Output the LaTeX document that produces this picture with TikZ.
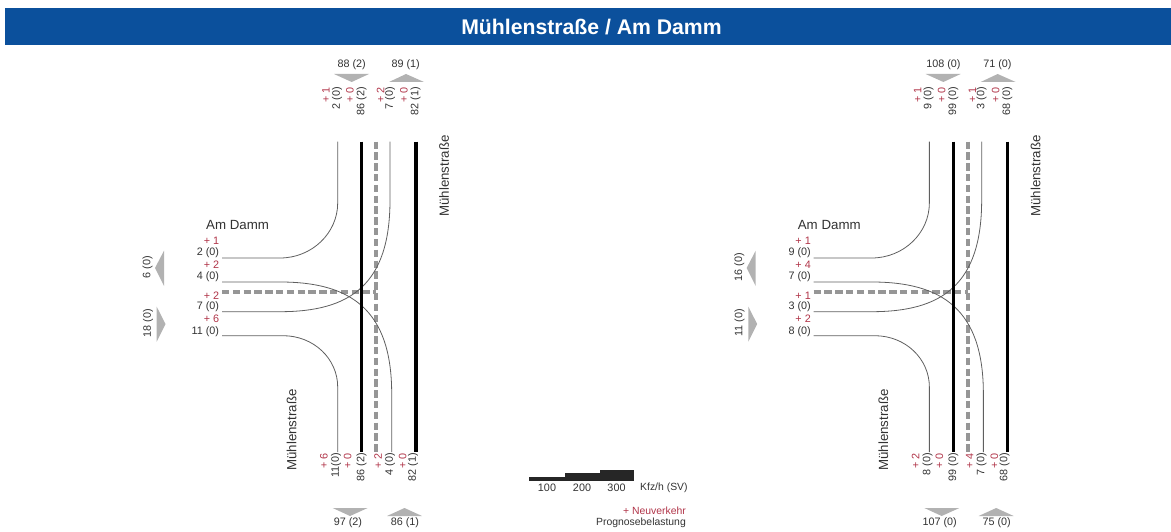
\documentclass[tikz,border=0pt]{standalone}
\usepackage{fontspec}
\setmainfont{Liberation Sans}
\usetikzlibrary{positioning}
\definecolor{bannerblue}{RGB}{11,80,156}
\definecolor{newred}{RGB}{176,52,72}
\definecolor{loadtext}{RGB}{50,50,50}
\definecolor{arrowgray}{RGB}{178,178,178}
\definecolor{dashgray}{RGB}{150,150,150}
\definecolor{turngray}{RGB}{95,95,95}
\tikzset{
  lbl/.style={inner sep=0pt,font=\fontsize{10.8}{12}\selectfont,text=loadtext},
  newlbl/.style={lbl,text=newred},
  legendlbl/.style={inner sep=0pt,font=\fontsize{10.4}{12}\selectfont,text=loadtext},
  streetlbl/.style={inner sep=0pt,font=\fontsize{13.3}{15}\selectfont,text=loadtext},
  upcount/.style={anchor=east,rotate=90},
  turn/.style={turngray,line width=0.8pt},
  thickflow/.style={black,line width=3.2pt},
  dashflow/.style={dashgray,line width=4.2pt,dash pattern=on 7.4pt off 3.4pt},
}
\newcommand{\junction}{
  \coordinate (nw) at (337.7,141.7);
  \coordinate (nwb) at (337.7,203);
  \coordinate (ne) at (390,141.7);
  \coordinate (neb) at (390,200);
  \coordinate (sw) at (337.7,452);
  \coordinate (swb) at (337.7,387);
  \coordinate (se) at (391.7,452);
  \coordinate (seb) at (391.7,393.7);
  \coordinate (wa) at (222,258);
  \coordinate (wab) at (280,258);
  \coordinate (wb) at (222,282);
  \coordinate (wbb) at (280,282);
  \coordinate (wc) at (222,292.3);
  \coordinate (wd) at (222,311.7);
  \coordinate (wdb) at (280,311.7);
  \coordinate (we) at (222,335.7);
  \coordinate (web) at (283,335.7);
  \coordinate (tl) at (361.7,141.7);
  \coordinate (bl) at (361.7,452);
  \coordinate (tm) at (376,141.7);
  \coordinate (bm) at (376,452);
  \coordinate (mm) at (376,292.3);
  \coordinate (tr) at (416,141.7);
  \coordinate (br) at (416,452);
  \draw[dashflow] (tm) -- (bm);
  \draw[dashflow] (wc) -- (mm);
  \draw[turn] (wa) -- (wab) .. controls (312,258) and (337.7,233) .. (nwb) -- (nw);
  \draw[turn] (wb) -- (wbb) .. controls (350,282) and (391.7,309) .. (seb) -- (se);
  \draw[turn] (wd) -- (wdb) .. controls (350,311.7) and (390,285) .. (neb) -- (ne);
  \draw[turn] (we) -- (web) .. controls (314,335.7) and (337.7,359) .. (swb) -- (sw);
  \draw[thickflow] (tl) -- (bl);
  \draw[thickflow] (tr) -- (br);
  % direction arrows
  \fill[arrowgray] (334,74) -- (369,74) -- (351.7,82) -- cycle;
  \fill[arrowgray] (389,82) -- (424,82) -- (406,74) -- cycle;
  \fill[arrowgray] (332.7,508) -- (367.7,508) -- (350,516) -- cycle;
  \fill[arrowgray] (387,516) -- (422,516) -- (404.5,508) -- cycle;
  \fill[arrowgray] (164,250.7) -- (164,286) -- (155,268) -- cycle;
  \fill[arrowgray] (156.7,306.7) -- (156.7,341.7) -- (165.5,324) -- cycle;
  \node[streetlbl,anchor=west] (damm) at (206,225) {Am Damm};
  \node[streetlbl,rotate=90] (northname) at (444,176) {Mühlenstraße};
  \node[streetlbl,rotate=90] (southname) at (291.7,430) {Mühlenstraße};
}
\begin{document}
\begin{tikzpicture}[x=1pt,y=-1pt]
  \useasboundingbox (0,0) rectangle (1171,532);
  \node[fill=bannerblue,minimum width=1166pt,minimum height=37.5pt,inner sep=0pt] (banner) at (588,26.3) {};
  \node[inner sep=0pt,text=white,font=\fontsize{21.2}{24}\selectfont\bfseries] (title) at (591.5,27) {Mühlenstraße / Am Damm};

  \begin{scope}[name prefix=a-]
    \junction
    \node[lbl] (ntot) at (351.7,65) {88 (2)};
    \node[lbl] (ntotb) at (405.7,65) {89 (1)};
    \node[lbl] (stot) at (348,523) {97 (2)};
    \node[lbl] (stotb) at (405,523) {86 (1)};
    \node[lbl,rotate=90] (wtot) at (147.7,267) {6 (0)};
    \node[lbl,rotate=90] (wtotb) at (148,323) {18 (0)};
    \foreach \x/\t [count=\i] in {337/2 (0),361.7/86 (2),390/7 (0),415.7/82 (1)}
      \node[lbl,upcount] (nb\i) at (\x,87) {\t};
    \foreach \x/\t [count=\i] in {326/+ 1,350/+ 0,380.7/+ 2,404/+ 0}
      \node[newlbl,upcount] (nr\i) at (\x,87) {\t};
    \foreach \x/\t [count=\i] in {336/11(0),361.7/86 (2),390/4 (0),413/82 (1)}
      \node[lbl,upcount] (sb\i) at (\x,453) {\t};
    \foreach \x/\t [count=\i] in {324/+ 6,347.7/+ 0,378/+ 2,402.7/+ 0}
      \node[newlbl,upcount] (sr\i) at (\x,453) {\t};
    \foreach \y/\t [count=\i] in {252.5/2 (0),276.5/4 (0),307/7 (0),331.5/11 (0)}
      \node[lbl,anchor=east] (wb\i) at (219.3,\y) {\t};
    \foreach \y/\t [count=\i] in {241/+ 1,265/+ 2,296/+ 2,319/+ 6}
      \node[newlbl,anchor=east] (wr\i) at (219.3,\y) {\t};
  \end{scope}

  \begin{scope}[xshift=591.67pt,name prefix=b-]
    \junction
    \node[lbl] (ntot) at (351.7,65) {108 (0)};
    \node[lbl] (ntotb) at (405.7,65) {71 (0)};
    \node[lbl] (stot) at (348,523) {107 (0)};
    \node[lbl] (stotb) at (405,523) {75 (0)};
    \node[lbl,rotate=90] (wtot) at (147.7,267) {16 (0)};
    \node[lbl,rotate=90] (wtotb) at (148,323) {11 (0)};
    \foreach \x/\t [count=\i] in {337/9 (0),361.7/99 (0),390/3 (0),415.7/68 (0)}
      \node[lbl,upcount] (nb\i) at (\x,87) {\t};
    \foreach \x/\t [count=\i] in {326/+ 1,350/+ 0,380.7/+ 1,404/+ 0}
      \node[newlbl,upcount] (nr\i) at (\x,87) {\t};
    \foreach \x/\t [count=\i] in {336/8 (0),361.7/99 (0),390/7 (0),413/68 (0)}
      \node[lbl,upcount] (sb\i) at (\x,453) {\t};
    \foreach \x/\t [count=\i] in {324/+ 2,347.7/+ 0,378/+ 4,402.7/+ 0}
      \node[newlbl,upcount] (sr\i) at (\x,453) {\t};
    \foreach \y/\t [count=\i] in {252.5/9 (0),276.5/7 (0),307/3 (0),331.5/8 (0)}
      \node[lbl,anchor=east] (wb\i) at (219.3,\y) {\t};
    \foreach \y/\t [count=\i] in {241/+ 1,265/+ 4,296/+ 1,319/+ 2}
      \node[newlbl,anchor=east] (wr\i) at (219.3,\y) {\t};
  \end{scope}

  % legend
  \fill[black!85] (529,477.3) rectangle (565,481);
  \fill[black!85] (565,473.3) rectangle (599.5,481);
  \fill[black!85] (599.5,470) rectangle (634,481);
  \node[lbl] (hundred) at (547,487.5) {100};
  \node[lbl] (twohundred) at (582,487.5) {200};
  \node[lbl] (threehundred) at (616.5,487.5) {300};
  \node[legendlbl,anchor=west] (unit) at (640,487.5) {Kfz/h (SV)};
  \node[legendlbl,text=newred,anchor=east] (neuverkehr) at (686,511) {+ Neuverkehr};
  \node[legendlbl,anchor=east] (prognose) at (686,522.7) {Prognosebelastung};
\end{tikzpicture}
\end{document}
